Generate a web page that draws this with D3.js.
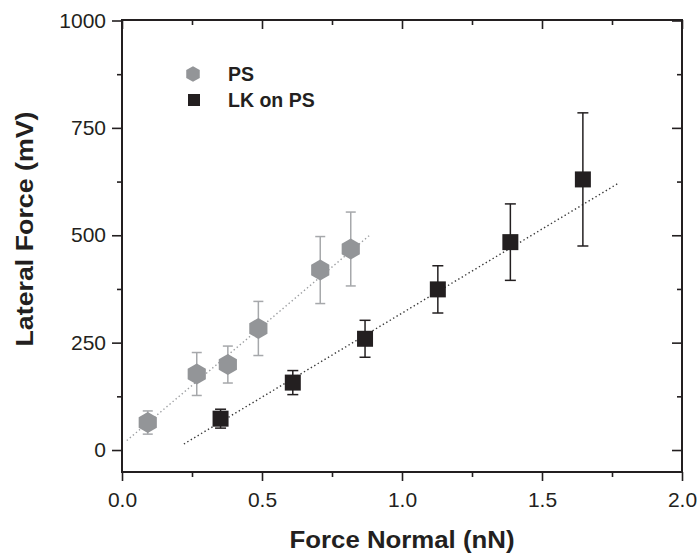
<!DOCTYPE html>
<html><head><meta charset="utf-8">
<script src="https://cdn.jsdelivr.net/npm/d3@7"></script>
<style>
body{margin:0;background:#fff;}
svg{display:block;}
text{font-family:"Liberation Sans",Arial,Helvetica,sans-serif;fill:#231f20;}
</style></head>
<body>
<svg id="chart" width="700" height="559"></svg>
<script>
// ---- data ----
const psX   = [0.092, 0.267, 0.378, 0.487, 0.708, 0.817];
const psY   = [64, 177, 199, 283, 419, 468];
const psErr = [27, 50, 43, 63, 78, 86];
const lkX   = [0.352, 0.610, 0.868, 1.128, 1.387, 1.646];
const lkY   = [73, 157, 259, 374, 484, 630];
const lkErr = [22, 28, 43, 55, 89, 155];
const fitPSx = [0.017, 0.888], fitPSy = [22, 502];
const fitLKx = [0.221, 1.770], fitLKy = [14, 620];
const xTicks = [0, 0.5, 1.0, 1.5, 2.0];
const xMinor = [0.25, 0.75, 1.25, 1.75];
const yTicks = [0, 250, 500, 750, 1000];
const yMinor = [125, 375, 625, 875];
const seriesNames = ["PS", "LK on PS"];

const svg = d3.select("#chart");
const L = 122, R = 682, T = 20, B = 472;
const x = d3.scaleLinear().domain([0, 2]).range([L, R]);
const y = d3.scaleLinear().domain([-50, 1000]).range([B - 0.5, T + 0.5]);
const ink = "#231f20";
const grayFill = "#939598", grayLine = "#a6a8ab";

function styleAxis(g){
  g.select(".domain").remove();
  g.selectAll("line").attr("stroke", ink).attr("stroke-width", 1.6);
  g.selectAll("text").attr("font-size", 21).attr("fill", ink);
}
// frame
svg.append("rect").attr("x", L).attr("y", T).attr("width", R - L).attr("height", B - T)
  .attr("fill", "none").attr("stroke", ink).attr("stroke-width", 2);

// bottom axis
svg.append("g").attr("transform", `translate(0,${B})`)
  .call(d3.axisBottom(x).tickValues(xTicks).tickSize(9).tickPadding(11).tickFormat(d3.format(".1f")))
  .call(styleAxis);
svg.append("g").attr("transform", `translate(0,${B})`)
  .call(d3.axisBottom(x).tickValues(xMinor).tickSize(5).tickFormat(""))
  .call(styleAxis);
// top axis (inward)
svg.append("g").attr("transform", `translate(0,${T})`)
  .call(d3.axisBottom(x).tickValues(xTicks).tickSize(9).tickFormat(""))
  .call(styleAxis);
svg.append("g").attr("transform", `translate(0,${T})`)
  .call(d3.axisBottom(x).tickValues(xMinor).tickSize(5).tickFormat(""))
  .call(styleAxis);
// left axis
svg.append("g").attr("transform", `translate(${L},0)`)
  .call(d3.axisLeft(y).tickValues(yTicks).tickSize(10).tickPadding(6).tickFormat(d3.format("d")))
  .call(styleAxis);
svg.append("g").attr("transform", `translate(${L},0)`)
  .call(d3.axisLeft(y).tickValues(yMinor).tickSize(5).tickFormat(""))
  .call(styleAxis);
// right axis (inward)
svg.append("g").attr("transform", `translate(${R},0)`)
  .call(d3.axisLeft(y).tickValues(yTicks).tickSize(10).tickFormat(""))
  .call(styleAxis);
svg.append("g").attr("transform", `translate(${R},0)`)
  .call(d3.axisLeft(y).tickValues(yMinor).tickSize(5).tickFormat(""))
  .call(styleAxis);

// fit lines
const line = d3.line().x(d => x(d[0])).y(d => y(d[1]));
svg.append("path").datum(d3.zip(fitPSx, fitPSy)).attr("d", line)
  .attr("fill", "none").attr("stroke", "#9d9fa2").attr("stroke-width", 1.4).attr("stroke-dasharray", "1.4,2.6");
svg.append("path").datum(d3.zip(fitLKx, fitLKy)).attr("d", line)
  .attr("fill", "none").attr("stroke", "#3a3a3a").attr("stroke-width", 1.4).attr("stroke-dasharray", "1.4,2.6");

function errorBars(xs, ys, es, color, cap){
  const data = d3.zip(xs, ys, es);
  const g = svg.append("g").attr("stroke", color).attr("stroke-width", 1.5);
  g.selectAll(".v").data(data).join("line")
    .attr("x1", d => x(d[0])).attr("x2", d => x(d[0]))
    .attr("y1", d => y(d[1] - d[2])).attr("y2", d => y(d[1] + d[2]));
  g.selectAll(".t").data(data).join("line")
    .attr("x1", d => x(d[0]) - cap/2).attr("x2", d => x(d[0]) + cap/2)
    .attr("y1", d => y(d[1] + d[2])).attr("y2", d => y(d[1] + d[2]));
  g.selectAll(".b").data(data).join("line")
    .attr("x1", d => x(d[0]) - cap/2).attr("x2", d => x(d[0]) + cap/2)
    .attr("y1", d => y(d[1] - d[2])).attr("y2", d => y(d[1] - d[2]));
}
errorBars(psX, psY, psErr, grayLine, 10);
errorBars(lkX, lkY, lkErr, ink, 11);

function hexPath(r){
  const pts = d3.range(6).map(i => {
    const a = Math.PI / 3 * i - Math.PI / 2;
    return [r * Math.cos(a), r * Math.sin(a)];
  });
  return "M" + pts.map(p => p.join(",")).join("L") + "Z";
}
svg.append("g").selectAll("path").data(d3.zip(psX, psY)).join("path")
  .attr("d", hexPath(10.5))
  .attr("transform", d => `translate(${x(d[0])},${y(d[1])})`)
  .attr("fill", grayFill);
const sq = 16;
svg.append("g").selectAll("rect").data(d3.zip(lkX, lkY)).join("rect")
  .attr("x", d => x(d[0]) - sq/2).attr("y", d => y(d[1]) - sq/2)
  .attr("width", sq).attr("height", sq).attr("fill", ink);

// legend
svg.append("path").attr("d", hexPath(7.8)).attr("transform", "translate(193,74)").attr("fill", grayFill);
svg.append("rect").attr("x", 188).attr("y", 94).attr("width", 12).attr("height", 12).attr("fill", ink);
svg.append("text").attr("x", 228).attr("y", 81).attr("font-size", 19.5).attr("font-weight", "bold").text(seriesNames[0]);
svg.append("text").attr("x", 228).attr("y", 107).attr("font-size", 19.5).attr("font-weight", "bold").text(seriesNames[1]);

// axis titles
svg.append("text").attr("x", (L + R) / 2).attr("y", 548).attr("text-anchor", "middle")
  .attr("font-size", 23.5).attr("font-weight", "bold").text("Force Normal (nN)")
  .attr("textLength", 225).attr("lengthAdjust", "spacingAndGlyphs");
svg.append("text").attr("transform", "translate(33,229) rotate(-90)").attr("text-anchor", "middle")
  .attr("font-size", 23.5).attr("font-weight", "bold").text("Lateral Force (mV)")
  .attr("textLength", 235).attr("lengthAdjust", "spacingAndGlyphs");
</script>
</body></html>
